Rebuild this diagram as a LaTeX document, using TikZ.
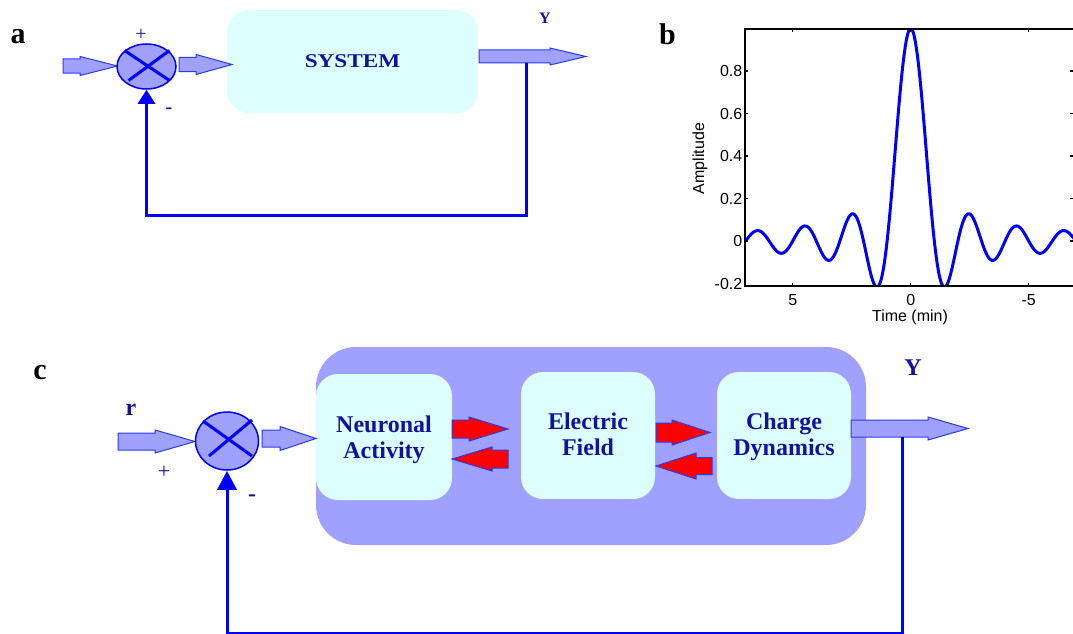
\documentclass[tikz,border=0pt]{standalone}
\usepackage{fontspec}
\usepackage{graphicx}
\setmainfont{Liberation Serif}
\newfontfamily\plotfont{Liberation Sans}
\usetikzlibrary{shapes.geometric,arrows.meta}
\definecolor{lblue}{RGB}{160,160,255}
\definecolor{lcyan}{RGB}{221,255,255}
\definecolor{dblue}{RGB}{18,18,160}
\definecolor{pblue}{RGB}{0,0,255}
\definecolor{eblue}{RGB}{40,60,240}
\tikzset{
 panel/.style={font=\fontsize{30}{30}\selectfont\bfseries, text=black, inner sep=0pt},
 sumjct/.style={ellipse, draw=pblue, line width=1.5pt, fill=lblue, inner sep=0pt},
 cross/.style={draw=pblue, line width=3pt},
 feedback/.style={draw=pblue, line width=3pt},
 blkarr/.style={fill=lblue, draw=eblue, line width=1pt},
 redarr/.style={fill=red, draw=eblue, line width=1pt},
 cbox/.style={rectangle, rounded corners=22pt, fill=lcyan, inner sep=0pt},
 ctext/.style={text=dblue, inner sep=0pt, font=\fontsize{24}{25.5}\selectfont\bfseries, align=center},
 bigbox/.style={rectangle, rounded corners=40pt, fill=lblue, inner sep=0pt},
 lbl/.style={text=dblue, inner sep=0pt},
 ticklbl/.style={font=\plotfont\fontsize{16}{16}\selectfont, inner sep=0pt},
 axisline/.style={draw=black, line width=1.1pt},
 curve/.style={draw=pblue, line width=3pt, line join=round},
}
% #1 style, #2 tail x, #3 head-base x, #4 tip x, #5 centre y, #6 half shaft, #7 half head
\newcommand\blkarrow[7]{%
 \draw[#1] ({#2},{#5-#6}) -- ({#3},{#5-#6}) -- ({#3},{#5-#7}) -- ({#4},{#5}) -- ({#3},{#5+#7}) -- ({#3},{#5+#6}) -- ({#2},{#5+#6}) -- cycle;}
\begin{document}
\begin{tikzpicture}[x=1pt,y=-1pt]
\useasboundingbox (0,0) rectangle (1073,634);

% ---------------- panel a
\node[panel] (la) at (18,37) {a};
\node[cbox, minimum width=251pt, minimum height=103pt] (system) at (352.5,61.5) {};
\node[lbl] (systemT) at (system.center) {\scalebox{1.19}[1]{\fontsize{19.5}{20}\selectfont\bfseries SYSTEM}};
\blkarrow{blkarr}{63}{80}{117.5}{66}{7}{9.5}
\blkarrow{blkarr}{179}{196}{232}{64.5}{7}{10}
\blkarrow{blkarr}{479}{550}{586}{56.5}{6.5}{8.5}
\node[sumjct, minimum width=59pt, minimum height=45pt] (sa) at (146.5,66.5) {};
\draw[cross] ([shift={(-22,-16)}]sa.center) -- ([shift={(23,14)}]sa.center);
\draw[cross] ([shift={(-18,14)}]sa.center) -- ([shift={(23,-16)}]sa.center);
\node[lbl, font=\fontsize{20}{20}\selectfont] (pa) at (141,35) {+};
\node[lbl, font=\fontsize{20}{20}\selectfont\bfseries] (ma) at (169,111) {-};
\node[lbl, font=\fontsize{16}{16}\selectfont\bfseries] (ya) at (545,18.5) {Y};
\coordinate (bra) at (526,63);
\coordinate (fab) at (0,215);
\draw[feedback, -{Triangle[width=17pt,length=14pt]}] (bra) |- (sa.south |- fab) -- (sa.south);

% ---------------- panel b
\node[panel] (lb) at (667.5,34) {b};
\begin{scope}
\clip (745,29) rectangle (1073,286);
\draw[curve] plot[domain=-7:7, samples=280, smooth] ({910.7-23.6*\x},{241-212.5*sin(180*\x)/(3.14159*\x)});
\end{scope}
\draw[axisline] (1073,29) -- (745,29) -- (745,286) -- (1073,286);
\foreach \v/\t in {0.8/0.8,0.6/0.6,0.4/0.4,0.2/0.2,0/0}{
  \draw[axisline] (745,{241-212.5*\v}) -- (748,{241-212.5*\v});
  \draw[axisline] (1073,{241-212.5*\v}) -- (1070,{241-212.5*\v});
  \node[ticklbl, anchor=east] at (742.5,{241-212.5*\v}) {\t};
}
\node[ticklbl, anchor=east] at (742.5,284) {-0.2};
\foreach \u/\t in {5/5,0/0,-5/-5}{
  \draw[axisline] ({910.7-23.6*\u},286) -- ({910.7-23.6*\u},283);
  \draw[axisline] ({910.7-23.6*\u},29) -- ({910.7-23.6*\u},32);
  \node[ticklbl] at ({910.7-23.6*\u},300) {\t};
}
\node[ticklbl, rotate=90] (amp) at (700,158.5) {Amplitude};
\node[ticklbl] (time) at (910,317) {Time (min)};

% ---------------- panel c
\node[panel] (lc) at (40,373) {c};
\node[bigbox, minimum width=550pt, minimum height=198pt] (plant) at (591,446) {};
\node[cbox, minimum width=136pt, minimum height=126pt] (neur) at (384,437) {};
\node[cbox, minimum width=134pt, minimum height=127pt] (elec) at (588,435.5) {};
\node[cbox, minimum width=134pt, minimum height=127pt] (chg) at (784,435.5) {};
\node[ctext] (neurT) at ([yshift=-3pt]neur.center) {Neuronal\\Activity};
\node[ctext] (elecT) at ([yshift=1pt]elec.center) {Electric\\Field};
\node[ctext] (chgT) at ([yshift=-1.5pt]chg.center) {Charge\\Dynamics};
\blkarrow{redarr}{452}{469}{508}{429}{9}{12}
\blkarrow{redarr}{508}{492}{452}{459}{9}{12}
\blkarrow{redarr}{656}{672}{710}{432.5}{9.5}{12.5}
\blkarrow{redarr}{712}{696}{656}{466}{8.5}{13}
\blkarrow{blkarr}{118}{155}{195}{441.5}{8.5}{11.5}
\blkarrow{blkarr}{262}{280}{316}{438.5}{8.5}{12}
\blkarrow{blkarr}{851}{928}{968}{428.5}{8.5}{11.5}
\node[sumjct, minimum width=63pt, minimum height=58pt] (sc) at (227,441) {};
\draw[cross] ([shift={(-24,-20)}]sc.center) -- ([shift={(25,15)}]sc.center);
\draw[cross] ([shift={(-18,15)}]sc.center) -- ([shift={(25,-21)}]sc.center);
\node[lbl, font=\fontsize{24}{24}\selectfont\bfseries] (rc) at (131,410) {r};
\node[lbl, font=\fontsize{22}{22}\selectfont] (pc) at (164,472) {+};
\node[lbl, font=\fontsize{24}{24}\selectfont\bfseries] (mc) at (252,498) {-};
\node[lbl, font=\fontsize{24}{24}\selectfont\bfseries] (yc) at (913,368) {Y};
\coordinate (brc) at (902,437);
\coordinate (fcb) at (0,633);
\draw[feedback, -{Triangle[width=19pt,length=19pt]}] (brc) |- (sc.south |- fcb) -- (sc.south);
\end{tikzpicture}
\end{document}
